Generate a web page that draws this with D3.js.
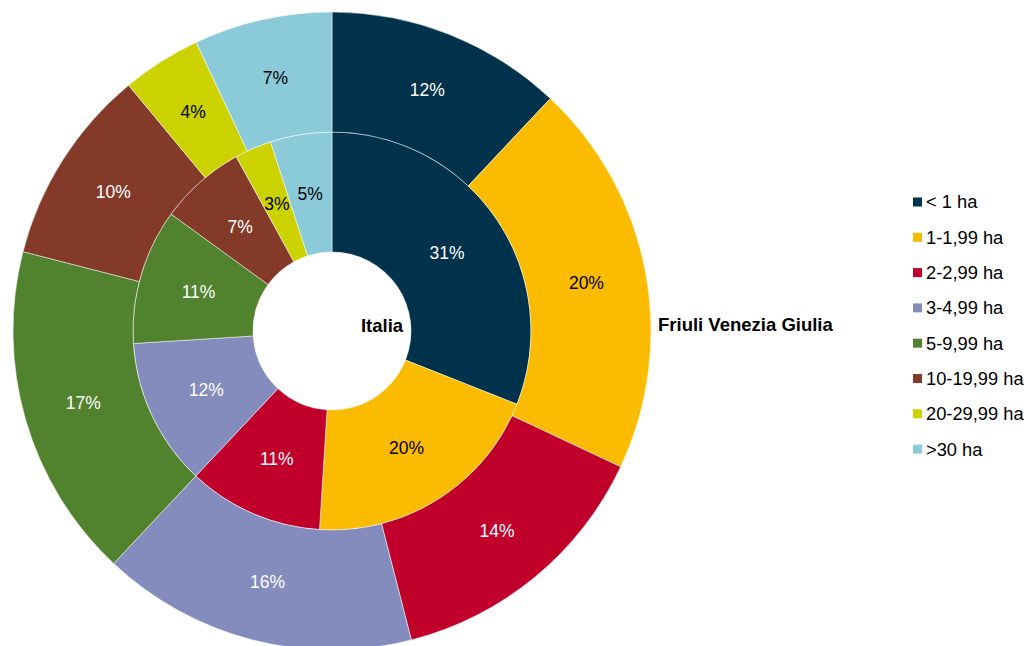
<!DOCTYPE html>
<html lang="it">
<head>
<meta charset="utf-8">
<script src="https://d3js.org/d3.v7.min.js"></script>
<style type="text/css">
body {
	margin: 0;
	background: #fff;
	font-family: "Liberation Sans", Arial, sans-serif;
}
</style>
</head>
<body>
<script type="text/javascript">

// classes of farm size
var categories = ["< 1 ha", "1-1,99 ha", "2-2,99 ha", "3-4,99 ha", "5-9,99 ha", "10-19,99 ha", "20-29,99 ha", ">30 ha"];
var colors = ["#00324b", "#fabb00", "#c0002a", "#848cbe", "#51822e", "#833a28", "#ccd100", "#8bcad9"];
// black label text on the light slices
var darkText = [false, true, false, false, false, false, true, true];

var italia = [31, 20, 11, 12, 11, 7, 3, 5];
var friuli = [12, 20, 14, 16, 17, 10, 4, 7];

var width = 1027, height = 646;
var cx = 332, cy = 331;
var r0 = 79, r1 = 199, r2 = 319;

var svg = d3.select("body").append("svg")
	.attr("width", width)
	.attr("height", height);

var pie = d3.pie().sort(null).value(function(d) { return d; });

var g = svg.append("g").attr("transform", "translate(" + cx + "," + cy + ")");

function ring(data, inner, outer, cls) {
	var arc = d3.arc().innerRadius(inner).outerRadius(outer);
	var arcs = pie(data);
	var sel = g.append("g").attr("class", cls);
	sel.selectAll("path")
		.data(arcs)
		.enter()
		.append("path")
		.attr("d", arc)
		.style("fill", function(d, i) { return colors[i]; })
		.style("stroke", "#fff")
		.style("stroke-width", 0.5);
	sel.selectAll("text")
		.data(arcs)
		.enter()
		.append("text")
		.attr("transform", function(d) { return "translate(" + arc.centroid(d) + ")"; })
		.attr("text-anchor", "middle")
		.attr("dy", "0.35em")
		.style("font-size", "17.5px")
		.style("fill", function(d, i) { return darkText[i] ? "#000" : "#fff"; })
		.text(function(d) { return d.data + "%"; });
}

ring(italia, r0, r1, "inner");
ring(friuli, r1, r2, "outer");

// series names
svg.append("text")
	.attr("x", 382)
	.attr("y", 326)
	.attr("text-anchor", "middle")
	.attr("dy", "0.35em")
	.style("font-size", "18.5px")
	.style("font-weight", "bold")
	.text("Italia");

svg.append("text")
	.attr("x", 658)
	.attr("y", 325)
	.attr("dy", "0.35em")
	.style("font-size", "18.5px")
	.style("font-weight", "bold")
	.text("Friuli Venezia Giulia");

// legend
var legend = svg.append("g")
	.selectAll("g")
	.data(categories)
	.enter()
	.append("g")
	.attr("transform", function(d, i) { return "translate(913," + (202 + i * 35.3) + ")"; });

legend.append("rect")
	.attr("x", 0)
	.attr("y", -4.5)
	.attr("width", 9)
	.attr("height", 9)
	.style("fill", function(d, i) { return colors[i]; });

legend.append("text")
	.attr("x", 13)
	.attr("y", 0)
	.attr("dy", "0.35em")
	.style("font-size", "18.3px")
	.style("fill", "#000")
	.text(function(d) { return d; });

</script>
</body>
</html>
